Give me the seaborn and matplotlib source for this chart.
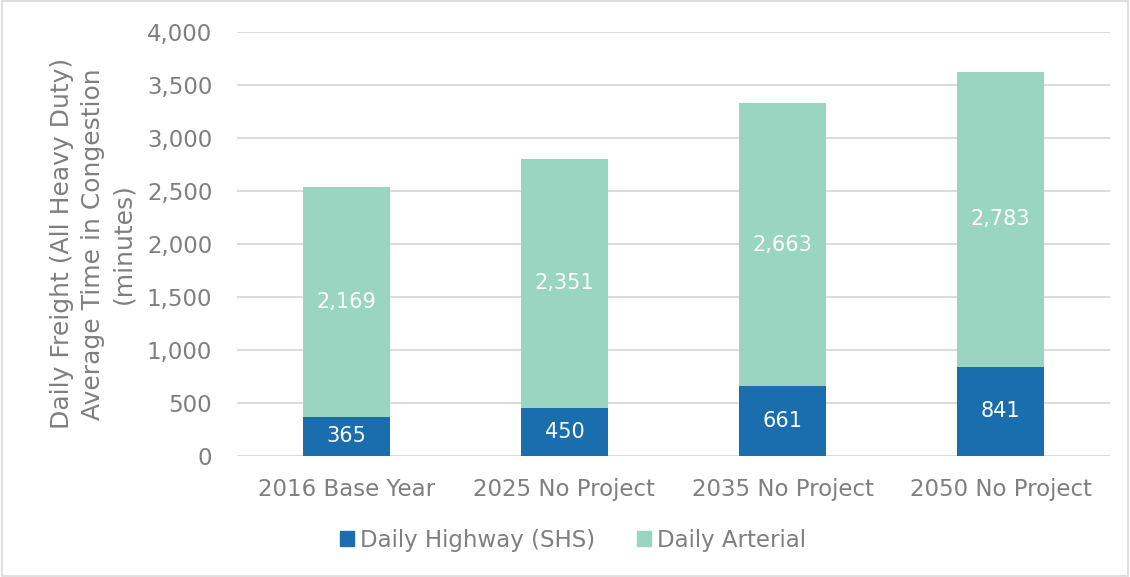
import numpy as np
import pandas as pd
import matplotlib.pyplot as plt
import seaborn as sns
from matplotlib.patches import Patch

scenarios = ["2016 Base Year", "2025 No Project", "2035 No Project", "2050 No Project"]
highway = [365, 450, 661, 841]
arterial = [2169, 2351, 2663, 2783]

blue = "#1A6EAD"
green = "#99D5C0"
grey = "#7F7F7F"

df = pd.DataFrame({"scenario": scenarios, "highway": highway, "arterial": arterial})
df["total"] = df["highway"] + df["arterial"]

sns.set_style("white")
plt.rcParams["font.family"] = ["DejaVu Sans"]

fig = plt.figure(figsize=(11.3, 5.77), dpi=100)
ax = fig.add_axes([0.21, 0.21, 0.772, 0.735])

# stacked: total first (arterial on top), highway drawn over the bottom part
sns.barplot(data=df, x="scenario", y="total", color=green, width=0.4,
            saturation=1, linewidth=0, ax=ax, zorder=2)
sns.barplot(data=df, x="scenario", y="highway", color=blue, width=0.4,
            saturation=1, linewidth=0, ax=ax, zorder=3)

for i, (h, a) in enumerate(zip(highway, arterial)):
    ax.text(i, h / 2, f"{h:,}", ha="center", va="center", color="white",
            fontsize=15, zorder=4)
    ax.text(i, h + a / 2, f"{a:,}", ha="center", va="center", color="white",
            fontsize=15, zorder=4)

ax.set_ylim(0, 4000)
ax.set_xlim(-0.5, 3.5)
ax.set_yticks(np.arange(0, 4001, 500))
ax.set_yticklabels([f"{v:,}" for v in range(0, 4001, 500)])
ax.yaxis.grid(True, color="#D9D9D9", linewidth=1.3, zorder=0)
ax.set_axisbelow(True)
ax.tick_params(axis="both", colors=grey, labelsize=16.5, length=0)
ax.tick_params(axis="y", pad=18)
ax.tick_params(axis="x", pad=16)
for s in ax.spines.values():
    s.set_visible(False)
ax.set_xlabel("")
ax.set_ylabel("Daily Freight (All Heavy Duty)\nAverage Time in Congestion\n(minutes)",
              color=grey, fontsize=18, linespacing=1.35, labelpad=8)

handles = [Patch(color=blue, label="Daily Highway (SHS)"),
           Patch(color=green, label="Daily Arterial")]
leg = fig.legend(handles=handles, loc="center", bbox_to_anchor=(0.507, 0.064),
                 ncol=2, frameon=False, fontsize=16.5, handlelength=0.65,
                 handleheight=0.65, handletextpad=0.25, columnspacing=1.8)
for t in leg.get_texts():
    t.set_color(grey)

fig.patches.append(plt.Rectangle((0.002, 0.002), 0.996, 0.996, transform=fig.transFigure,
                                 fill=False, edgecolor="#D9D9D9", linewidth=1.2))

fig.savefig("out.png", dpi=100)
